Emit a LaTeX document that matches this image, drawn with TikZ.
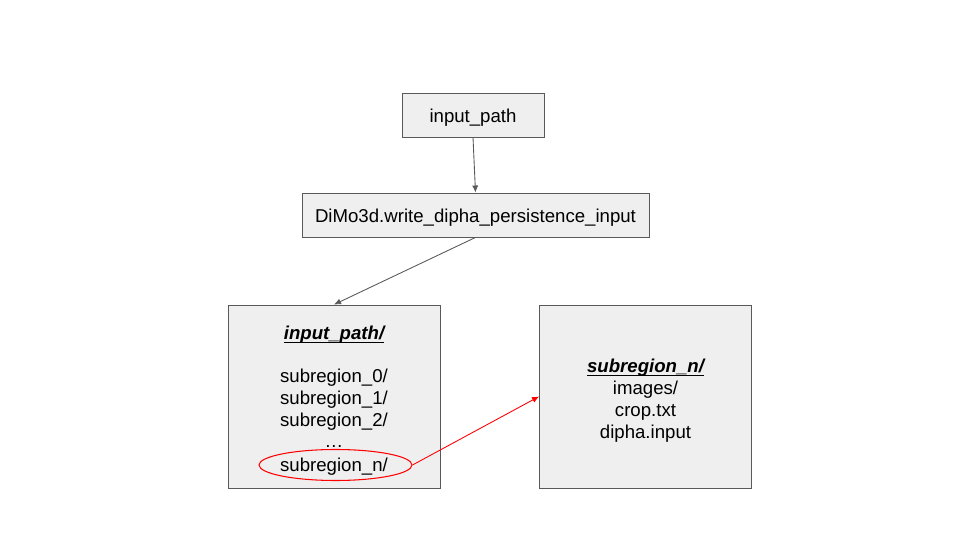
\documentclass[tikz,border=0pt]{standalone}
\usepackage{fontspec}
\setmainfont{Liberation Sans}
\usetikzlibrary{shapes.geometric,arrows.meta}

\definecolor{boxfill}{HTML}{EFEFEF}
\definecolor{boxline}{HTML}{595959}
\definecolor{pick}{HTML}{FF0000}

\newcommand\dirname[1]{\underline{\smash{#1}}}

\begin{document}
\begin{tikzpicture}[
    x=0.02cm, y=-0.02cm,
    every node/.style={font=\fontsize{10.6}{12.5}\selectfont},
    step box/.style={draw=boxline, fill=boxfill, line width=0.5pt,
      minimum height=0.88cm, inner sep=0pt, text height=10pt, text depth=1pt},
    folder/.style={draw=boxline, fill=boxfill, line width=0.5pt,
      minimum width=4.24cm, minimum height=3.66cm, inner sep=0pt},
    entry/.style={inner sep=0pt, text height=10pt, text depth=1pt},
    title/.style={entry, font=\fontsize{10.6}{12.5}\selectfont\bfseries\itshape},
    link/.style={draw=boxline, line width=0.5pt, -{Latex[length=4pt,width=3.5pt]}},
    >=latex
    ]
    \useasboundingbox (0,0) rectangle (960,540);

    % Steps
    \node[step box, minimum width=2.84cm] (src) at (473,115) {input\_path};
    \node[step box, minimum width=6.94cm] (dimo) at (475.5,215)
        {DiMo3d.write\_dipha\_persistence\_input};

    % Folders
    \node[folder] (root) at (334,396.5) {};
    \node[folder] (sub) at (645.5,396.5) {};

    \node[title] (roottitle) at (334,332) {\dirname{input\_path/}};
    \foreach \ai/\y in {0/375,1/397,2/419}
        \node[entry] (sr\ai) at (334,\y) {subregion\_\ai/};
    \node[entry] (dots) at (334,440) {\dots};
    \node[entry] (srn) at (334,464) {subregion\_n/};

    \node[title] (subtitle) at (645.5,365) {\dirname{subregion\_n/}};
    \node[entry] (images) at (645.5,387) {images/};
    \node[entry] (crop) at (645.5,409) {crop.txt};
    \node[entry] (dipha) at (645.5,431) {dipha.input};

    % Selection
    \node[ellipse, draw=pick, line width=0.6pt, minimum width=3.06cm,
        minimum height=0.62cm, inner sep=0pt] (nsel) at (335.5,465) {};

    % Links
    \draw[link] (src.south) -- (dimo.north);
    \draw[link] (dimo.south) -- (root.north);
    \draw[link, draw=pick] (nsel.east) -- (sub.west);
\end{tikzpicture}
\end{document}
